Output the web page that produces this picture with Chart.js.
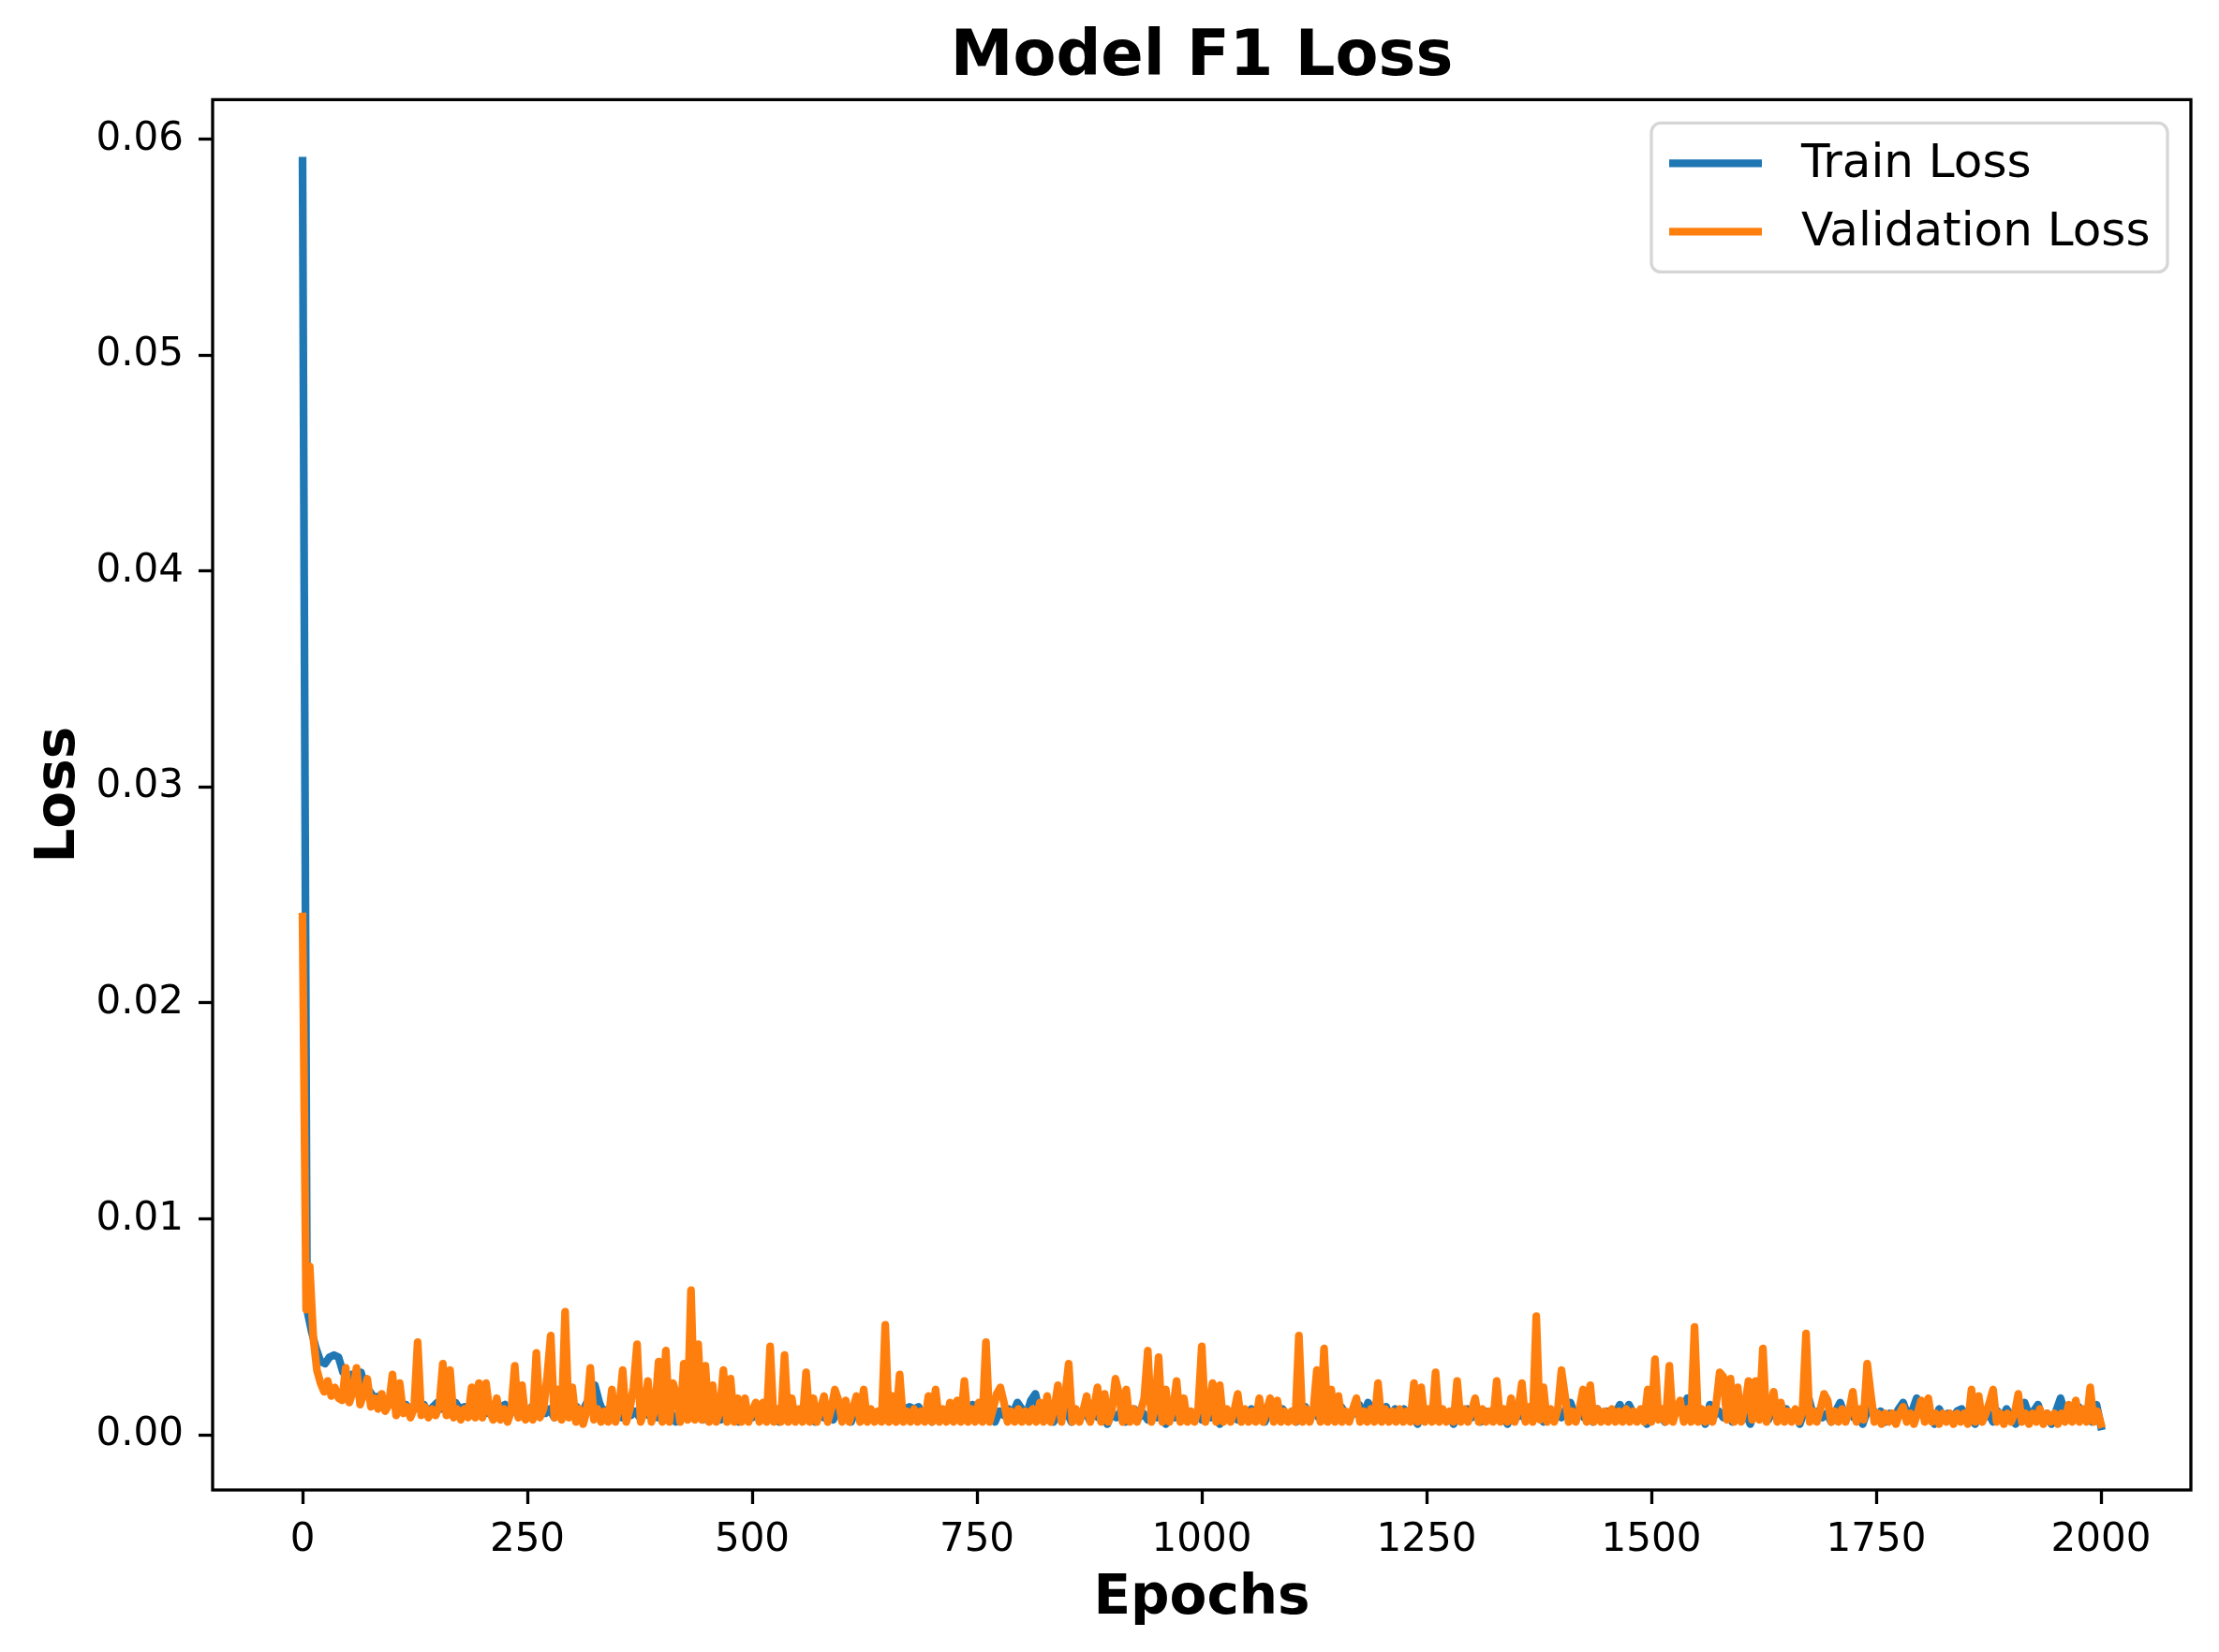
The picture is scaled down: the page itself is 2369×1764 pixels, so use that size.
<!DOCTYPE html>
<html>
<head>
<meta charset="utf-8">
<title>Model F1 Loss</title>
<script src="https://cdn.jsdelivr.net/npm/chart.js@4.4.0/dist/chart.umd.min.js"></script>
<style>
  html, body { margin: 0; padding: 0; background: #fff; }
  canvas { display: block; }
</style>
</head>
<body>
<canvas id="lossChart" width="2369" height="1764"></canvas>
<script>
const FONT = "'DejaVu Sans', sans-serif";

// train loss read every 5 epochs, validation loss every 4 epochs; values in units of 1e-4
const TRAIN_STEP = 5;
const VAL_STEP = 4;
const xTicks = [0, 250, 500, 750, 1000, 1250, 1500, 1750, 2000];
const yTicks = [0, 0.01, 0.02, 0.03, 0.04, 0.05, 0.06];
const seriesLabels = ['Train Loss', 'Validation Loss'];

const trainLoss = [
  590, 58, 48, 40, 34, 33, 36, 37, 36, 29,
  27, 28, 25, 29, 21, 20, 17, 18, 15, 16,
  14, 15, 12, 14, 11, 13, 12, 14, 10, 13,
  15, 12, 14, 11, 15, 12, 13, 11, 14, 12,
  13, 10, 14, 11, 13, 14, 10, 12, 9, 12,
  10, 13, 9, 11, 10, 12, 8, 11, 9, 12,
  10, 13, 9, 14, 18, 23, 15, 10, 12, 9,
  11, 8, 12, 9, 11, 8, 12, 9, 10, 8,
  11, 8, 10, 6, 11, 9, 12, 8, 10, 7,
  11, 8, 10, 7, 11, 9, 10, 6, 9, 11,
  8, 10, 7, 11, 9, 10, 6, 11, 8, 10,
  7, 11, 8, 10, 6, 12, 8, 10, 7, 11,
  9, 10, 6, 11, 8, 12, 9, 10, 7, 11,
  8, 10, 7, 11, 12, 13, 12, 13, 8, 10,
  6, 11, 9, 10, 7, 12, 8, 10, 12, 14,
  9, 12, 8, 10, 6, 11, 9, 12, 10, 15,
  12, 9, 16, 19, 10, 8, 11, 6, 10, 8,
  11, 6, 10, 8, 12, 7, 10, 8, 11, 5,
  10, 8, 11, 6, 10, 12, 8, 10, 7, 11,
  8, 10, 5, 11, 8, 10, 7, 11, 9, 10,
  7, 11, 8, 10, 5, 11, 8, 10, 7, 11,
  9, 12, 8, 10, 6, 11, 8, 10, 12, 8,
  10, 6, 11, 13, 9, 11, 8, 10, 7, 11,
  9, 13, 10, 8, 11, 14, 9, 15, 10, 8,
  11, 13, 8, 12, 10, 12, 8, 10, 5, 11,
  8, 10, 7, 11, 8, 10, 5, 11, 9, 12,
  8, 10, 6, 11, 9, 12, 8, 10, 5, 11,
  8, 10, 7, 11, 8, 10, 6, 11, 9, 10,
  8, 12, 15, 9, 11, 8, 10, 6, 12, 9,
  11, 8, 10, 14, 9, 14, 10, 8, 11, 5,
  10, 8, 11, 6, 10, 9, 12, 10, 17, 11,
  8, 11, 5, 14, 9, 11, 8, 10, 6, 11,
  8, 10, 5, 11, 8, 10, 7, 11, 9, 8,
  12, 8, 10, 5, 11, 17, 9, 11, 8, 10,
  6, 11, 15, 9, 11, 8, 10, 5, 11, 13,
  8, 11, 6, 10, 8, 12, 15, 9, 11, 17,
  10, 8, 11, 5, 12, 8, 10, 6, 11, 12,
  8, 10, 5, 11, 8, 10, 6, 11, 8, 12,
  9, 5, 11, 15, 9, 11, 14, 8, 10, 5,
  11, 17, 10, 8, 11, 13, 8, 10, 6, 14,
  4
];

// one line per 100 epochs
const valLoss = [
  240, 58, 78, 45, 30, 24, 20, 25, 18, 22, 17, 16, 31, 15, 20, 31, 14, 19, 26, 13, 17, 12, 19, 11, 14,
  28, 9, 24, 10, 13, 8, 12, 43, 9, 13, 8, 12, 9, 13, 33, 9, 30, 8, 12, 7, 12, 8, 22, 8, 24,
  8, 24, 11, 7, 17, 7, 12, 6, 11, 32, 8, 23, 7, 12, 7, 38, 8, 12, 27, 46, 8, 21, 7, 57, 8,
  22, 6, 12, 5, 11, 31, 7, 12, 6, 11, 6, 21, 6, 12, 30, 6, 12, 22, 42, 6, 11, 25, 6, 12, 34,
  6, 39, 6, 24, 18, 6, 33, 7, 67, 7, 42, 7, 32, 6, 23, 6, 11, 30, 6, 26, 6, 17, 6, 17, 6,
  11, 15, 6, 15, 6, 41, 6, 12, 6, 37, 6, 17, 6, 12, 6, 29, 6, 17, 6, 12, 18, 6, 12, 21, 16,
  6, 16, 6, 12, 18, 6, 21, 6, 12, 6, 11, 6, 51, 6, 18, 6, 28, 6, 11, 6, 12, 6, 11, 6, 18,
  6, 21, 6, 12, 6, 15, 6, 16, 6, 25, 6, 12, 6, 15, 6, 43, 6, 12, 19, 22, 15, 6, 11, 6, 12,
  6, 11, 6, 12, 6, 15, 6, 18, 6, 12, 23, 6, 18, 33, 6, 12, 6, 11, 18, 6, 12, 22, 6, 19, 6,
  11, 26, 19, 6, 21, 6, 12, 6, 11, 17, 39, 6, 12, 36, 6, 21, 6, 12, 25, 6, 17, 6, 11, 6, 12,
  41, 6, 12, 24, 6, 23, 6, 12, 6, 11, 19, 6, 12, 6, 11, 6, 17, 6, 11, 17, 6, 16, 6, 11, 6,
  11, 6, 46, 6, 12, 6, 11, 30, 6, 40, 6, 21, 6, 18, 6, 11, 6, 12, 17, 6, 11, 6, 12, 6, 24,
  6, 12, 6, 11, 6, 12, 6, 11, 6, 24, 6, 22, 6, 12, 6, 29, 6, 12, 6, 11, 6, 25, 6, 12, 6,
  11, 17, 6, 12, 6, 11, 6, 25, 6, 12, 6, 17, 6, 12, 24, 6, 13, 6, 55, 7, 22, 6, 12, 6, 12,
  30, 18, 6, 11, 6, 12, 21, 6, 23, 6, 12, 6, 11, 6, 12, 6, 11, 6, 12, 6, 11, 6, 12, 6, 21,
  6, 35, 7, 12, 6, 32, 6, 12, 16, 6, 12, 6, 50, 6, 12, 6, 12, 6, 14, 29, 27, 7, 26, 6, 22,
  6, 13, 25, 7, 25, 7, 40, 6, 12, 20, 6, 15, 6, 11, 6, 12, 6, 11, 47, 6, 11, 6, 12, 19, 16,
  6, 11, 6, 12, 6, 11, 20, 6, 12, 7, 33, 19, 6, 10, 5, 10, 6, 10, 5, 10, 13, 6, 10, 5, 10,
  16, 6, 17, 6, 10, 5, 10, 6, 10, 5, 10, 6, 10, 5, 21, 6, 18, 6, 10, 15, 21, 6, 10, 5, 10,
  6, 10, 19, 6, 10, 5, 10, 6, 12, 5, 10, 6, 10, 5, 10, 6, 14, 6, 16, 6, 12, 6, 22, 6, 11,
  5
];

const toPoints = (values, step) => values.map((v, i) => ({ x: i * step, y: v / 1e4 }));

// box around the plot area, like matplotlib spines
const framePlugin = {
  id: 'frame',
  afterDatasetsDraw(chart) {
    const { ctx, chartArea: a } = chart;
    ctx.save();
    ctx.strokeStyle = '#000';
    ctx.lineWidth = 3.3;
    ctx.strokeRect(a.left, a.top, a.right - a.left, a.bottom - a.top);
    ctx.restore();
  }
};

// legend box in the upper right corner of the plot
const legendPlugin = {
  id: 'boxLegend',
  afterDraw(chart) {
    const { ctx, chartArea: a } = chart;
    const w = 551, h = 159;
    const x0 = a.right - 25 - w;
    const y0 = a.top + 25;
    ctx.save();
    ctx.beginPath();
    ctx.roundRect(x0, y0, w, h, 10);
    ctx.fillStyle = 'rgba(255,255,255,0.8)';
    ctx.fill();
    ctx.strokeStyle = 'rgba(204,204,204,0.8)';
    ctx.lineWidth = 3.3;
    ctx.stroke();
    ctx.font = '50px ' + FONT;
    ctx.textBaseline = 'middle';
    ctx.textAlign = 'left';
    chart.data.datasets.forEach((ds, i) => {
      const y = y0 + 43 + i * 73;
      ctx.strokeStyle = ds.borderColor;
      ctx.lineWidth = 8.3;
      ctx.lineCap = 'butt';
      ctx.beginPath();
      ctx.moveTo(x0 + 19, y);
      ctx.lineTo(x0 + 118, y);
      ctx.stroke();
      ctx.fillStyle = '#000';
      ctx.fillText(ds.label, x0 + 160, y + 2);
    });
    ctx.restore();
  }
};

Chart.defaults.font.family = FONT;
Chart.defaults.color = '#000';

const lineStyle = {
  borderWidth: 8.3,
  pointRadius: 0,
  tension: 0,
  borderJoinStyle: 'round',
  borderCapStyle: 'square',
  fill: false
};

new Chart(document.getElementById('lossChart'), {
  type: 'line',
  data: {
    datasets: [
      { label: seriesLabels[0], data: toPoints(trainLoss, TRAIN_STEP), borderColor: '#1f77b4', order: 2, ...lineStyle },
      { label: seriesLabels[1], data: toPoints(valLoss, VAL_STEP), borderColor: '#ff7f0e', order: 1, ...lineStyle }
    ]
  },
  options: {
    responsive: false,
    devicePixelRatio: 1,
    animation: false,
    layout: { padding: { left: 0, top: 0, right: 30, bottom: 0 } },
    plugins: {
      legend: { display: false },
      tooltip: { enabled: false },
      title: {
        display: true,
        text: 'Model F1 Loss',
        fullSize: false,
        color: '#000',
        font: { size: 67, weight: 'bold', lineHeight: 1.2 },
        padding: { top: 22, bottom: 4 }
      }
    },
    scales: {
      x: {
        type: 'linear',
        min: -100,
        max: 2100,
        afterBuildTicks: (scale) => { scale.ticks = xTicks.map((v) => ({ value: v })); },
        afterFit: (scale) => { scale.height = 173; },
        ticks: {
          autoSkip: false,
          maxRotation: 0,
          padding: 14,
          font: { size: 42 },
          callback: (v) => String(v)
        },
        grid: { drawOnChartArea: false, drawTicks: true, tickLength: 15, tickWidth: 3.3, tickColor: '#000' },
        border: { display: false },
        title: {
          display: true,
          text: 'Epochs',
          font: { size: 58, weight: 'bold', lineHeight: 1.2 },
          padding: { top: 0, bottom: 21 }
        }
      },
      y: {
        type: 'linear',
        min: -0.00255,
        max: 0.06183,
        afterBuildTicks: (scale) => { scale.ticks = yTicks.map((v) => ({ value: v })); },
        afterFit: (scale) => { scale.width = 227; },
        ticks: {
          autoSkip: false,
          padding: 16,
          font: { size: 42 },
          callback: (v) => v.toFixed(2)
        },
        grid: { drawOnChartArea: false, drawTicks: true, tickLength: 15, tickWidth: 3.3, tickColor: '#000' },
        border: { display: false },
        title: {
          display: true,
          text: 'Loss',
          font: { size: 58, weight: 'bold', lineHeight: 1.2 },
          padding: { top: 29, bottom: 0 }
        }
      }
    }
  },
  plugins: [framePlugin, legendPlugin]
});
</script>
</body>
</html>
